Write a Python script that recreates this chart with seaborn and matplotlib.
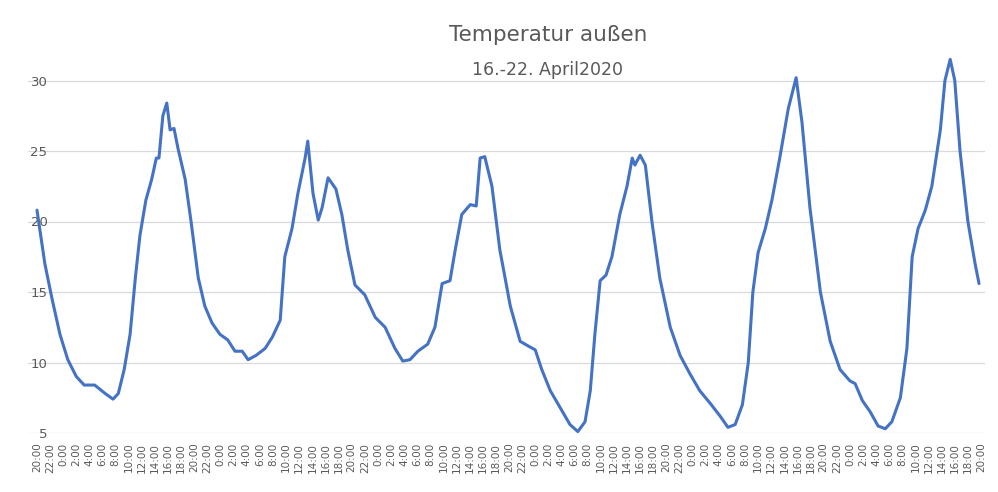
import matplotlib

matplotlib.use("Agg")

import matplotlib.pyplot as plt
import seaborn as sns
import pandas as pd

# hours since 16 April 20:00, temperature
HOURS = [0, 1.2, 2.3, 3.5, 4.7, 6, 7.2, 8.8, 10.4, 11.6, 12.4, 13.3, 14.2, 15, 15.7, 16.6, 17.5,
         18.2, 18.6, 19.2, 19.8, 20.3, 20.9, 21.5, 22.6, 23.5, 24.6, 25.6, 26.7, 27.9, 29.1,
         30.2, 31.3, 32.2, 33.4, 34.8, 35.9, 37.1, 37.8, 38.9, 39.8, 40.9, 41.3, 42.1, 42.9,
         43.5, 44.4, 45.6, 46.5, 47.4, 48.5, 50, 51.6, 53.1, 54.6, 55.8, 56.9, 58.1, 59.6,
         60.7, 61.8, 63, 63.8, 64.8, 66.1, 67, 67.6, 68.3, 69.4, 70.6, 72.2, 73.7, 75.2, 76,
         77, 78.3, 79.8, 81.3, 82.5, 83.6, 84.4, 85.1, 85.9, 86.8, 87.7, 88.9, 90, 90.8, 91.2,
         92, 92.8, 93.8, 95, 96.6, 98.1, 99.6, 101.1, 102.7, 104.2, 105.4, 106.5, 107.6,
         108.5, 109.2, 110, 111.1, 112.1, 113.3, 114.6, 115.8, 116.7, 117.9, 119.5, 121,
         122.5, 124, 124.8, 125.9, 127.1, 128.3, 129.4, 130.4, 131.7, 132.7, 133.5, 134.4,
         135.5, 136.5, 137.8, 138.5, 139.3, 140, 140.8, 142, 143.1, 143.7]
TEMPS = [20.8, 17, 14.5, 12, 10.2, 9, 8.4, 8.4, 7.8, 7.4, 7.8, 9.5, 12, 16, 19, 21.5, 23,
         24.5, 24.5, 27.5, 28.4, 26.5, 26.6, 25.2, 23, 20, 16, 14, 12.8, 12, 11.6,
         10.8, 10.8, 10.2, 10.5, 11, 11.8, 13, 17.5, 19.5, 22, 24.5, 25.7, 22, 20.1,
         21, 23.1, 22.3, 20.5, 18, 15.5, 14.8, 13.2, 12.5, 11, 10.1, 10.2, 10.8, 11.3,
         12.5, 15.6, 15.8, 18, 20.5, 21.2, 21.1, 24.5, 24.6, 22.5, 18, 14, 11.5, 11.1, 10.9,
         9.5, 8, 6.8, 5.6, 5.1, 5.8, 8, 12, 15.8, 16.2, 17.5, 20.5, 22.5, 24.5, 24,
         24.7, 24, 20, 16, 12.5, 10.5, 9.2, 8, 7.1, 6.2, 5.4, 5.6, 7,
         10, 15, 17.8, 19.5, 21.5, 24.5, 28, 30.2, 27, 21, 15, 11.5,
         9.5, 8.7, 8.5, 7.3, 6.5, 5.5, 5.3, 5.8, 7.5, 11, 17.5, 19.5,
         20.8, 22.5, 26.5, 30, 31.5, 30, 25, 20, 17, 15.6]
TICK_HOURS = list(range(0, 145, 2))
TICK_LABELS = [f"{(20 + h) % 24}:00" for h in TICK_HOURS]
Y_TICKS = [5, 10, 15, 20, 25, 30]

df = pd.DataFrame({"hour": HOURS, "temp": TEMPS})

sns.set_style("white")
fig = plt.figure(figsize=(9.98, 4.92), dpi=100)
ax = fig.add_axes([28 / 998, 1 - 433 / 492, (985 - 28) / 998, (433 - 10) / 492])
sns.lineplot(data=df, x="hour", y="temp", color="#4472C4", linewidth=2.2, ax=ax)

ax.set_xlim(-9 / 6.555, 144 + 4 / 6.555)
ax.set_ylim(5, 35)
ax.set_yticks(Y_TICKS)
ax.yaxis.grid(True, color="#d9d9d9", linewidth=0.9)
ax.set_xticks(TICK_HOURS)
ax.set_xticklabels(TICK_LABELS, rotation=90, fontsize=7.5, color="#595959")
ax.tick_params(axis="x", length=0, pad=7)
ax.tick_params(axis="y", length=0, pad=-14, labelsize=9.5, labelcolor="#595959")
for lab in ax.get_yticklabels():
    lab.set_horizontalalignment("right")
for s in ax.spines.values():
    s.set_visible(False)
ax.set_xlabel("")
ax.set_ylabel("")

fig.text(548 / 998, 1 - 35 / 492, "Temperatur außen", ha="center", va="center",
         fontsize=15.5, color="#595959")
fig.text(548 / 998, 1 - 70 / 492, "16.-22. April2020", ha="center", va="center",
         fontsize=12.5, color="#595959")

fig.savefig("out.png", dpi=100)
